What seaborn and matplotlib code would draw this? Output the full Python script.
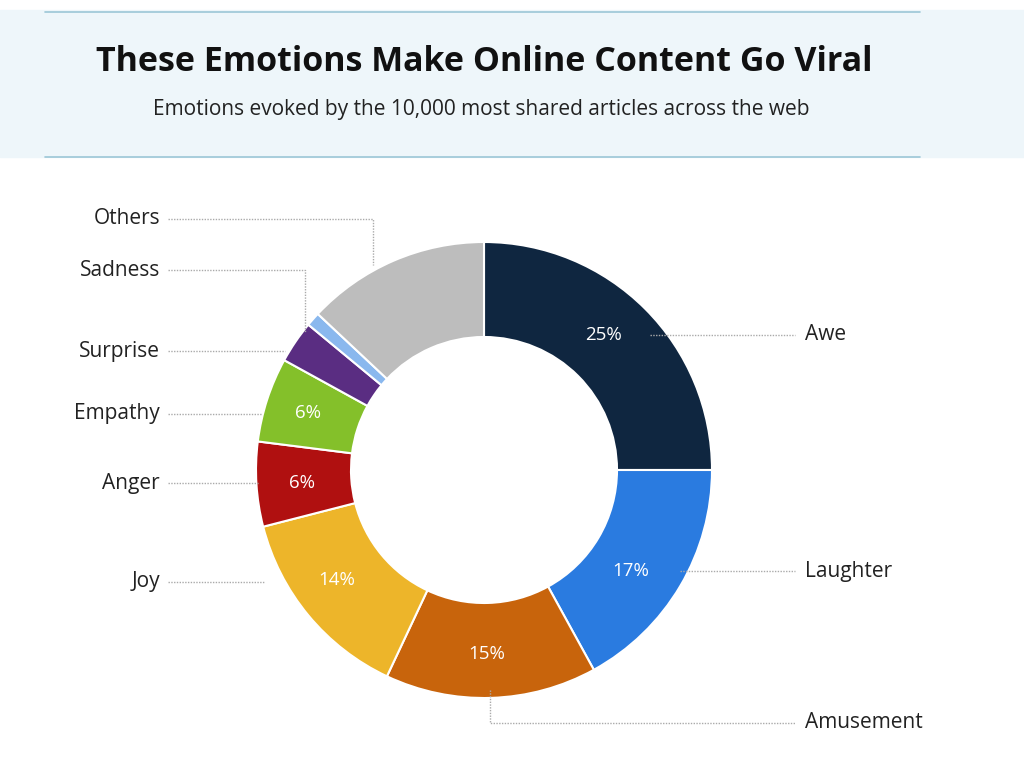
import matplotlib
matplotlib.use("Agg")
import matplotlib.pyplot as plt
import seaborn as sns
from matplotlib.patches import Rectangle

categories = ["Awe", "Laughter", "Amusement", "Joy", "Anger", "Empathy", "Surprise", "Sadness", "Others"]
values = [25, 17, 15, 14, 6, 6, 3, 1, 13]
colors = ["#0f2640", "#2a7be0", "#c8640c", "#edb52a", "#b01010", "#84c02a", "#5a2d82", "#8ab8ee", "#bdbdbd"]
pct_labels = ["25%", "17%", "15%", "14%", "6%", "6%", "", "", ""]

sns.set_theme(style="white", font="Open Sans")
H = 763
fig = plt.figure(figsize=(10.24, 7.63), dpi=100)
ax = fig.add_axes([0, 0, 1, 1])
ax.set_xlim(0, 1024); ax.set_ylim(0, H); ax.set_aspect("equal"); ax.axis("off")

def Y(y): return H - y

# header
ax.add_patch(Rectangle((0, Y(157)), 1024, 147, color="#eef6fa", zorder=0))
ax.plot([45, 920], [Y(12), Y(12)], color="#9cc6d6", lw=1.2)
ax.plot([45, 920], [Y(157), Y(157)], color="#9cc6d6", lw=1.2)
ax.text(484, Y(62), "These Emotions Make Online Content Go Viral", ha="center", va="center",
        fontsize=24.5, fontweight="bold", color="#111111")
ax.text(481, Y(110), "Emotions evoked by the 10,000 most shared articles across the web", ha="center",
        va="center", fontsize=15, color="#222222")

cx, cy, R = 484, Y(470), 228
wedges, _ = ax.pie(values, colors=colors, startangle=90, counterclock=False, center=(cx, cy), radius=R,
                   wedgeprops=dict(width=R - 133, edgecolor="white", linewidth=1.5), frame=True)
ax.set_xlim(0, 1024); ax.set_ylim(0, H); ax.axis("off")

pct_pos = [(603, 335), (631, 571), (487, 654), (337, 580), (302, 483), (308, 413)]
for (x, y), t in zip(pct_pos, pct_labels):
    ax.text(x, Y(y), t, ha="center", va="center", color="white", fontsize=13.5)

lc = dict(color="#aaaaaa", lw=1, ls=(0, (1, 1)))
left = {"Others": (219, [(168, 219), (373, 219), (373, 265)]),
        "Sadness": (270, [(168, 270), (305, 270), (305, 332)]),
        "Surprise": (351, [(168, 351), (285, 351)]),
        "Empathy": (414, [(168, 414), (262, 414)]),
        "Anger": (483, [(168, 483), (258, 483)]),
        "Joy": (582, [(168, 582), (265, 582)])}
for name, (y, pts) in left.items():
    ax.text(160, Y(y), name, ha="right", va="center", fontsize=15, color="#222222")
    ax.plot([p[0] for p in pts], [Y(p[1]) for p in pts], **lc)
right = {"Awe": (335, [(650, 335), (795, 335)]),
         "Laughter": (571, [(680, 571), (795, 571)]),
         "Amusement": (723, [(490, 690), (490, 723), (795, 723)])}
for name, (y, pts) in right.items():
    ax.text(805, Y(y), name, ha="left", va="center", fontsize=15, color="#222222")
    ax.plot([p[0] for p in pts], [Y(p[1]) for p in pts], **lc)

fig.savefig("out.png", dpi=100, facecolor="white")
